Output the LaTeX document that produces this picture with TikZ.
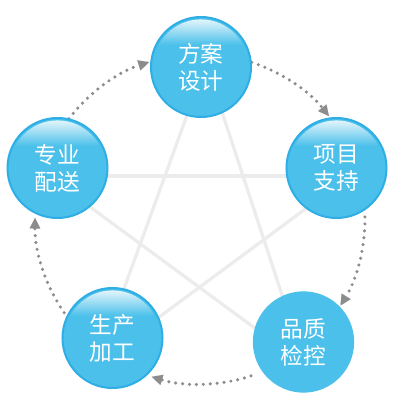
\documentclass[tikz,border=0pt]{standalone}
\usepackage{fontspec}
\newfontfamily\cjk{Noto Sans CJK SC}
\usetikzlibrary{arrows.meta,calc}
\definecolor{cblue}{HTML}{4BC0EA}
\definecolor{cring}{HTML}{2FAEE5}
\definecolor{dotgray}{HTML}{8C8C8C}
\definecolor{stargray}{HTML}{ECECEC}
\tikzset{
  ball/.style={circle, minimum size=75pt, inner sep=0pt, fill=cblue, draw=cblue, line width=1pt,
    text=white, align=center, font=\cjk\fontsize{17pt}{20.25pt}\selectfont},
  gloss/.style={draw=cring, line width=1.5pt, path picture={
    \begin{scope}
      \clip (path picture bounding box.center) circle (47.6);
      \clip ($(path picture bounding box.center)+(0,19)$) ellipse (46 and 29);
      \foreach \d in {0,...,28} {
        \pgfmathtruncatemacro\w{92*(1-\d/28)}
        \fill[white!\w!cblue] ($(path picture bounding box.center)+(-50,50-\d)$) rectangle ($(path picture bounding box.center)+(50,48.7-\d)$);
      }
    \end{scope}}},
  starline/.style={draw=stargray, line width=2.4pt},
  flow/.style={draw=dotgray, line width=2.6pt, line cap=round, dash pattern=on 0pt off 5.2pt,
    -{Triangle[length=8pt,width=8pt,line width=0.01pt]}},
}
\begin{document}
\begin{tikzpicture}[x=0.75pt,y=0.75pt]
\fill[white] (0,0) rectangle (400,405);
\useasboundingbox (0,0) rectangle (400,405);
% star
\coordinate (A) at (206,342);
\coordinate (B) at (350,229);
\coordinate (C) at (305,40);
\coordinate (D) at (97,42);
\coordinate (E) at (48,229);
\draw[starline] (A) -- (D);
\draw[starline] (A) -- (C);
\draw[starline] (E) -- (B);
\draw[starline] (E) -- (C);
\draw[starline] (B) -- (D);
% dotted cycle
\coordinate (O) at (200,186);
\coordinate (s1) at ($(O)+(142.6:165)$);
\coordinate (s2) at ($(O)+(71.7:165)$);
\coordinate (s3) at ($(O)+(0.7:165)$);
\coordinate (s4) at ($(O)+(-72:165)$);
\coordinate (s5) at ($(O)+(-145.4:165)$);
\draw[flow] (s1) arc[start angle=142.6, end angle=108, radius=165];
\draw[flow] (s2) arc[start angle=71.7, end angle=38.6, radius=165];
\draw[flow] (s3) arc[start angle=0.7, end angle=-31.6, radius=165];
\draw[flow] (s4) arc[start angle=-72, end angle=-107, radius=165];
\draw[flow] (s5) arc[start angle=-145.4, end angle=-180.4, radius=165];
% balls
\node[ball,gloss] (top) at (201,338) {方案\\设计};
\node[ball,gloss] (right) at (336.5,237) {项目\\支持};
\node[ball] (br) at (303.5,63) {品质\\检控};
\node[ball,gloss] (bl) at (112.5,67) {生产\\加工};
\node[ball,gloss] (left) at (57.5,237) {专业\\配送};
\end{tikzpicture}
\end{document}
